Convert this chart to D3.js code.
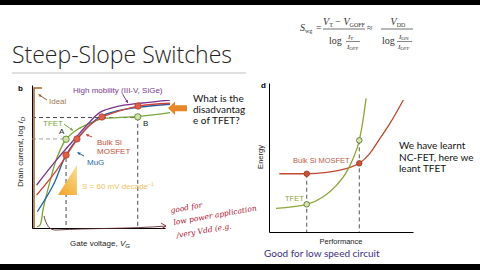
<!DOCTYPE html>
<html>
<head>
<meta charset="utf-8">
<script src="https://cdn.jsdelivr.net/npm/d3@7"></script>
<style>
body { margin: 0; background: #fff; }
svg { display: block; }
</style>
</head>
<body>
<div class="container"></div>
<script>
// panel b: gate voltage (x) vs log drain current (y), arbitrary units 0..100
var idealCurve   = [[1.5, 0], [1.5, 100], [7.5, 100]];
var highMobility = [[3.5, 30.7], [18.6, 48.8], [33.6, 65.2], [43.6, 75.9], [51.1, 82.6], [63.7, 86.7], [81.2, 89.1], [103.8, 91.4]];
var bulkSi       = [[3.5, 23.6], [18.6, 41.4], [34.1, 63.4], [43.6, 73.6], [52.4, 79.1], [63.7, 83.1], [79.9, 87.1], [103.8, 89.1]];
var muG          = [[4.0, 11.6], [16.0, 30.7], [25.6, 52.1], [38.6, 68.8], [51.1, 79.5], [63.7, 83.6], [81.2, 86.4], [103.8, 88.4]];
var tfetB        = [[3.8, 1.0], [6.0, 2.1], [8.5, 14.1], [13.5, 33.1], [18.6, 49.8], [25.6, 63.4], [33.6, 70.0], [43.6, 74.8], [51.1, 77.6], [63.7, 78.8], [79.5, 79.6], [103.8, 82.4]];
var pointsA_B    = [[25.6, 63.4], [79.5, 79.4]];
var pointsRedB   = [[25.6, 52.1], [33.8, 63.6], [52.6, 79.3], [79.7, 87.1]];
var slopeTri     = [[19.5, 23.6], [33.8, 23.6], [33.8, 45]];

// panel d: performance (x) vs energy (y), arbitrary units 0..100
var bulkSiD = [[7.2, 39.1], [26.2, 39.1], [40.1, 40.0], [49.3, 41.6], [56.3, 43.4], [62.7, 46.1], [70.1, 52.8], [77.1, 62.9], [84.0, 72.9], [93.3, 88.6]];
var tfetD   = [[4.9, 15.9], [26.2, 18.6], [37.7, 23.7], [47.0, 31.5], [54.0, 40.5], [58.5, 49.5], [62.7, 61.5], [65.5, 76.3], [67.4, 89.7]];
var pointsRedD   = [[26.2, 39.1], [62.7, 46.1]];
var pointsGreenD = [[26.2, 18.6], [62.7, 61.5]];

const WIDTH = 480;
const HEIGHT = 270;
const SANS = 'Liberation Sans, Arial, sans-serif';
const SLIDE = 'Lato, Open Sans, sans-serif';

var svg = d3.select('.container').append('svg')
	.attr('width', WIDTH)
	.attr('height', HEIGHT);

svg.append('rect').attr('width', WIDTH).attr('height', HEIGHT).attr('fill', '#fff');
svg.append('rect').attr('width', WIDTH).attr('height', 5).attr('fill', '#000');
svg.append('rect').attr('y', 264).attr('width', WIDTH).attr('height', 6).attr('fill', '#000');

// title
svg.append('text')
	.attr('x', 12).attr('y', 63)
	.attr('font-family', 'Open Sans, sans-serif').attr('font-weight', 300)
	.attr('font-size', 23).attr('fill', '#222')
	.text('Steep-Slope Switches');
svg.append('line')
	.attr('x1', 12).attr('x2', 246).attr('y1', 73).attr('y2', 73)
	.attr('stroke', '#d4d4d4').attr('stroke-width', 1.5);

// formula
var f = svg.append('g').attr('font-family', 'Liberation Serif, serif').attr('fill', '#333').attr('font-size', 10);
var s = f.append('text').attr('x', 300).attr('y', 31);
s.append('tspan').attr('font-style', 'italic').text('S');
s.append('tspan').attr('font-size', 6).attr('dy', 2).text('wg');
f.append('text').attr('x', 316).attr('y', 31).text('=');
var n1 = f.append('text').attr('x', 344).attr('y', 25).attr('text-anchor', 'middle');
n1.append('tspan').attr('font-style', 'italic').text('V');
n1.append('tspan').attr('font-size', 6).attr('dy', 2).text('T');
n1.append('tspan').attr('dy', -2).text(' \u2212 ');
n1.append('tspan').attr('font-style', 'italic').text('V');
n1.append('tspan').attr('font-size', 6).attr('dy', 2).text('GOFF');
f.append('line').attr('x1', 323).attr('x2', 365).attr('y1', 29).attr('y2', 29).attr('stroke', '#333').attr('stroke-width', 0.7);
f.append('text').attr('x', 329).attr('y', 44).text('log');
var it = f.append('text').attr('x', 348).attr('y', 39).attr('font-size', 7);
it.append('tspan').attr('font-style', 'italic').text('I');
it.append('tspan').attr('font-size', 5).attr('dy', 1).text('T');
f.append('line').attr('x1', 346).attr('x2', 360).attr('y1', 41.5).attr('y2', 41.5).attr('stroke', '#333').attr('stroke-width', 0.6);
var io = f.append('text').attr('x', 347).attr('y', 49).attr('font-size', 7);
io.append('tspan').attr('font-style', 'italic').text('I');
io.append('tspan').attr('font-size', 5).attr('dy', 1).text('OFF');
f.append('text').attr('x', 367).attr('y', 31).text('\u2248');
var n2 = f.append('text').attr('x', 398).attr('y', 25).attr('text-anchor', 'middle');
n2.append('tspan').attr('font-style', 'italic').text('V');
n2.append('tspan').attr('font-size', 6).attr('dy', 2).text('DD');
f.append('line').attr('x1', 381).attr('x2', 413).attr('y1', 29).attr('y2', 29).attr('stroke', '#333').attr('stroke-width', 0.7);
f.append('text').attr('x', 382).attr('y', 44).text('log');
var ion = f.append('text').attr('x', 399).attr('y', 39).attr('font-size', 7);
ion.append('tspan').attr('font-style', 'italic').text('I');
ion.append('tspan').attr('font-size', 5).attr('dy', 1).text('ON');
f.append('line').attr('x1', 397).attr('x2', 412).attr('y1', 41.5).attr('y2', 41.5).attr('stroke', '#333').attr('stroke-width', 0.6);
var io2 = f.append('text').attr('x', 398).attr('y', 49).attr('font-size', 7);
io2.append('tspan').attr('font-style', 'italic').text('I');
io2.append('tspan').attr('font-size', 5).attr('dy', 1).text('OFF');

// small arrow helper
var arrow = function(x1, y1, x2, y2, color){
	var a = Math.atan2(y2 - y1, x2 - x1), h = 3.2;
	svg.append('line').attr('x1', x1).attr('y1', y1).attr('x2', x2).attr('y2', y2)
		.attr('stroke', color).attr('stroke-width', 1);
	svg.append('path')
		.attr('d', 'M' + x2 + ',' + y2 +
			'L' + (x2 - h * Math.cos(a - 0.5)) + ',' + (y2 - h * Math.sin(a - 0.5)) +
			'L' + (x2 - h * Math.cos(a + 0.5)) + ',' + (y2 - h * Math.sin(a + 0.5)) + 'Z')
		.attr('fill', color);
}

// ---------- panel b ----------
var xB = d3.scaleLinear().domain([0, 100]).range([32, 165]);
var yB = d3.scaleLinear().domain([0, 100]).range([228, 88]);

var gb = svg.append('g');
gb.append('g').attr('transform', 'translate(0,228)')
	.call(d3.axisBottom(xB).tickValues([]).tickSizeOuter(0));
gb.append('g').attr('transform', 'translate(32,0)')
	.call(d3.axisLeft(yB.copy().range([228, 85])).tickValues([]).tickSizeOuter(0));

var lineB = d3.line().x(function(d){return xB(d[0])}).y(function(d){return yB(d[1])});

// guides
gb.append('path').attr('d', lineB([[0, 78.9], [79.5, 78.9], [79.5, 0]]))
	.attr('fill', 'none').attr('stroke', '#333').attr('stroke-width', 0.9).attr('stroke-dasharray', '4,3');
gb.append('path').attr('d', lineB([[0, 63.6], [25.6, 63.6]]))
	.attr('fill', 'none').attr('stroke', '#999').attr('stroke-width', 0.9).attr('stroke-dasharray', '4,3');
gb.append('path').attr('d', lineB([[25.6, 50], [25.6, 0]]))
	.attr('fill', 'none').attr('stroke', '#333').attr('stroke-width', 0.9).attr('stroke-dasharray', '4,3');

// slope triangle
var grad = svg.append('defs').append('linearGradient').attr('id', 'tri')
	.attr('x1', 0).attr('y1', 1).attr('x2', 0.6).attr('y2', 0);
grad.append('stop').attr('offset', 0).attr('stop-color', '#f2a425');
grad.append('stop').attr('offset', 1).attr('stop-color', '#f8d68a');
gb.append('path').attr('d', lineB(slopeTri) + 'Z').attr('fill', 'url(#tri)');

gb.append('path').attr('d', lineB(idealCurve))
	.attr('fill', 'none').attr('stroke', '#a46a26').attr('stroke-width', 1.6);

var smooth = lineB.curve(d3.curveCatmullRom);
var seriesB = [
	{data: tfetB, color: '#78a83a'},
	{data: muG, color: '#1f5f9f'},
	{data: bulkSi, color: '#d0443a'},
	{data: highMobility, color: '#7b2f8e'}
];
gb.selectAll('path.curve').data(seriesB)
	.enter().append('path')
	.attr('class', 'curve')
	.attr('d', function(s){return smooth(s.data)})
	.attr('fill', 'none')
	.attr('stroke', function(s){return s.color})
	.attr('stroke-width', 1.3);

gb.selectAll('circle.red').data(pointsRedB)
	.enter().append('circle').attr('class', 'red')
	.attr('cx', function(d){return xB(d[0])}).attr('cy', function(d){return yB(d[1])})
	.attr('r', 3.2).attr('fill', '#e2604a').attr('stroke', '#a83a2a').attr('stroke-width', 0.7);
gb.selectAll('circle.grn').data(pointsA_B)
	.enter().append('circle').attr('class', 'grn')
	.attr('cx', function(d){return xB(d[0])}).attr('cy', function(d){return yB(d[1])})
	.attr('r', 3.2).attr('fill', '#cfe3a6').attr('stroke', '#4f7a22').attr('stroke-width', 0.8);

var lb = gb.append('g').attr('font-family', SANS).attr('font-size', 8);
lb.append('text').attr('x', 18).attr('y', 91).attr('font-weight', 'bold').text('b');
lb.append('text').attr('x', 73).attr('y', 93).attr('fill', '#7b3a8e').text('High mobility (III-V, SiGe)');
lb.append('text').attr('x', 49).attr('y', 104).attr('fill', '#a07a50').text('Ideal');
lb.append('text').attr('x', 43).attr('y', 126).attr('fill', '#78a83a').text('TFET');
lb.append('text').attr('x', 59).attr('y', 134).attr('fill', '#222').text('A');
lb.append('text').attr('x', 143).attr('y', 126).attr('fill', '#222').text('B');
lb.append('text').attr('x', 97).attr('y', 145).attr('fill', '#c8503a').text('Bulk Si');
lb.append('text').attr('x', 97).attr('y', 154).attr('fill', '#c8503a').text('MOSFET');
lb.append('text').attr('x', 87).attr('y', 165).attr('fill', '#2a6aa8').text('MuG');
var sl = lb.append('text').attr('x', 82).attr('y', 189).attr('fill', '#f2c25e');
sl.append('tspan').text('S = 60 mV decade');
sl.append('tspan').attr('font-size', 5).attr('dy', -3).text('\u22121');
var xl = lb.append('text').attr('x', 100).attr('y', 246).attr('text-anchor', 'middle').attr('fill', '#222');
xl.append('tspan').text('Gate voltage, ');
xl.append('tspan').attr('font-style', 'italic').text('V');
xl.append('tspan').attr('font-style', 'italic').attr('font-size', 6).attr('dy', 2).text('G');
var yl = lb.append('text').attr('transform', 'translate(23,152) rotate(-90)').attr('text-anchor', 'middle').attr('fill', '#222');
yl.append('tspan').text('Drain current, log ');
yl.append('tspan').attr('font-style', 'italic').text('I');
yl.append('tspan').attr('font-style', 'italic').attr('font-size', 6).attr('dy', 2).text('D');

arrow(47, 100, 38.5, 94.5, '#8a5a2a');
arrow(123, 95, 128, 103, '#7b2f8e');
arrow(64, 124, 73, 130.5, '#78a83a');
arrow(92, 137, 86, 134.5, '#d0443a');
arrow(84, 156, 77.5, 152.5, '#1f5f9f');

// big orange arrow
svg.append('path')
	.attr('d', 'M168,108 L175,101.5 L175,105.3 L187,105.3 L187,111.3 L175,111.3 L175,115 Z')
	.attr('fill', '#e8862a');

var q = svg.append('text').attr('font-family', SLIDE).attr('font-size', 10).attr('fill', '#111');
['What is the', 'disadvantag', 'e of TFET?'].forEach(function(t, i){
	q.append('tspan').attr('x', 193).attr('y', 102 + i * 11).text(t);
});

// handwritten note
svg.append('path')
	.attr('d', 'M44,216 C46,224 49,231 57,230 C90,228 130,229 166,226')
	.attr('fill', 'none').attr('stroke', '#5a2a30').attr('stroke-width', 0.9);
svg.append('path').attr('d', 'M161,223 L166,226 L161,229')
	.attr('fill', 'none').attr('stroke', '#a0203a').attr('stroke-width', 0.9);
var hw = svg.append('g').attr('font-family', 'DejaVu Serif, serif').attr('font-style', 'italic')
	.attr('font-size', 7.5).attr('fill', '#b0102e');
hw.append('text').attr('transform', 'translate(171,213) rotate(-10)').text('good for');
hw.append('text').attr('transform', 'translate(174,225) rotate(-10)').text('low power application');
hw.append('text').attr('transform', 'translate(177,238) rotate(-10)').text('/very Vdd (e.g.');

// ---------- panel d ----------
var xD = d3.scaleLinear().domain([0, 100]).range([269, 413]);
var yD = d3.scaleLinear().domain([0, 100]).range([232, 83]);

var gd = svg.append('g');
gd.append('g').attr('transform', 'translate(0,232)')
	.call(d3.axisBottom(xD).tickValues([]).tickSizeOuter(0));
gd.append('g').attr('transform', 'translate(269,0)')
	.call(d3.axisLeft(yD).tickValues([]).tickSizeOuter(0));

var lineD = d3.line().x(function(d){return xD(d[0])}).y(function(d){return yD(d[1])});
gd.append('path').attr('d', lineD([[26.2, 39.1], [26.2, 0]]))
	.attr('stroke', '#444').attr('stroke-width', 0.9).attr('stroke-dasharray', '4,3');
gd.append('path').attr('d', lineD([[62.7, 61.5], [62.7, 0]]))
	.attr('stroke', '#444').attr('stroke-width', 0.9).attr('stroke-dasharray', '4,3');

var smoothD = lineD.curve(d3.curveMonotoneX);
gd.append('path').attr('d', smoothD(bulkSiD))
	.attr('fill', 'none').attr('stroke', '#bb4a2e').attr('stroke-width', 1.3);
gd.append('path').attr('d', smoothD(tfetD))
	.attr('fill', 'none').attr('stroke', '#8ca63a').attr('stroke-width', 1.3);

gd.selectAll('circle.red').data(pointsRedD)
	.enter().append('circle').attr('class', 'red')
	.attr('cx', function(d){return xD(d[0])}).attr('cy', function(d){return yD(d[1])})
	.attr('r', 2.8).attr('fill', '#c8553a').attr('stroke', '#8a3020').attr('stroke-width', 0.7);
gd.selectAll('circle.grn').data(pointsGreenD)
	.enter().append('circle').attr('class', 'grn')
	.attr('cx', function(d){return xD(d[0])}).attr('cy', function(d){return yD(d[1])})
	.attr('r', 2.8).attr('fill', '#d6e4b0').attr('stroke', '#4f6a22').attr('stroke-width', 0.8);

var ld = gd.append('g').attr('font-family', SANS).attr('font-size', 7.5);
ld.append('text').attr('x', 261).attr('y', 88).attr('font-weight', 'bold').attr('font-size', 8).text('d');
ld.append('text').attr('x', 293).attr('y', 163).attr('fill', '#b8604a').text('Bulk Si MOSFET');
ld.append('text').attr('x', 285).attr('y', 201).attr('fill', '#94a040').text('TFET');
ld.append('text').attr('x', 341).attr('y', 244).attr('text-anchor', 'middle').attr('fill', '#222').text('Performance');
ld.append('text').attr('transform', 'translate(263,157) rotate(-90)').attr('text-anchor', 'middle').attr('fill', '#222').text('Energy');

var w = svg.append('text').attr('font-family', SLIDE).attr('font-size', 10).attr('fill', '#111');
['We have learnt', 'NC-FET, here we', 'leant TFET'].forEach(function(t, i){
	w.append('tspan').attr('x', 399).attr('y', 149 + i * 11.5).text(t);
});
svg.append('text').attr('x', 264).attr('y', 257)
	.attr('font-family', SLIDE).attr('font-size', 10).attr('fill', '#3c2f86')
	.text('Good for low speed circuit');
</script>
</body>
</html>
